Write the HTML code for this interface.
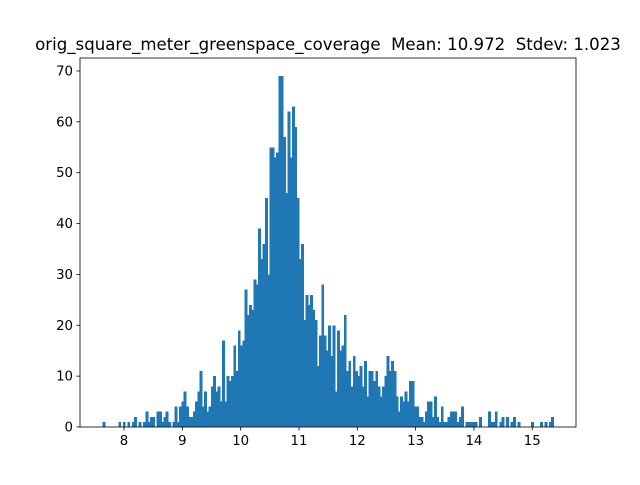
<!DOCTYPE html>
<html><head><meta charset="utf-8"><style>
html,body{margin:0;padding:0;background:#fff;}
svg text{font-family:"DejaVu Sans","Liberation Sans",sans-serif;fill:#000;white-space:pre;}
</style></head><body>
<svg id="chart" width="640" height="480" viewBox="0 0 640 480" xmlns="http://www.w3.org/2000/svg">
<rect x="0" y="0" width="640" height="480" fill="#fff"/>
<text x="328" y="50" font-size="16.6" text-anchor="middle" xml:space="preserve">orig_square_meter_greenspace_coverage  Mean: 10.972  Stdev: 1.023</text>
<g id="bars" shape-rendering="crispEdges"></g>
<g id="axes"></g>
</svg>
<script>
const counts = [1,0,0,0,0,0,0,1,0,1,0,1,0,1,2,0,1,0,1,3,1,2,2,0,3,3,1,2,3,1,0,
1,4,1,4,5,7,4,2,2,3,5,7,11,4,7,3,4,8,10,7,8,5,17,5,10,9,10,16,11,19,16,17,27,22,24,23,29,28,39,33,36,45,30,55,55,53,54,69,69,57,46,62,53,63,59,45,33,36,21,26,24,26,23,21,12,18,28,18,15,20,14,20,7,19,15,16,22,11,13,8,14,11,10,12,8,13,6,11,11,9,11,8,6,8,10,14,11,13,11,6,3,6,5,7,5,9,9,4,4,2,2,1,3,5,5,2,6,2,1,4,1,1,2,3,3,3,1,2,4,0,1,1,1,1,1,0,2,0,0,0,3,1,1,3,0,1,2,0,2,0,1,2,0,1,0,0,0,0,0,1,0,0,0,1,0,1,0,1,2];
const binStart = 7.632;
const binWidth = 0.03866;
const xTicks = [8,9,10,11,12,13,14,15];
const yTicks = [0,10,20,30,40,50,60,70];

const L=80,R=576,T=58,B=427;
const xMin=7.245,xMax=15.75,yMax=72.55;
const sx=v=>L+(v-xMin)/(xMax-xMin)*(R-L);
const sy=v=>B-v/yMax*(B-T);
const NS='http://www.w3.org/2000/svg';
const bars=document.getElementById('bars');
counts.forEach((c,i)=>{
  if(c<=0) return;
  const x0=sx(binStart+i*binWidth), x1=sx(binStart+(i+1)*binWidth);
  const r=document.createElementNS(NS,'rect');
  r.setAttribute('x',x0);r.setAttribute('width',x1-x0+0.6);
  r.setAttribute('y',sy(c));r.setAttribute('height',B-sy(c));
  r.setAttribute('fill','#1f77b4');
  
  
  bars.appendChild(r);
});
const axes=document.getElementById('axes');
const frame=document.createElementNS(NS,'rect');
frame.setAttribute('x',L);frame.setAttribute('y',T);frame.setAttribute('width',R-L);frame.setAttribute('height',B-T);
frame.setAttribute('fill','none');frame.setAttribute('stroke','#000');frame.setAttribute('stroke-width','0.8');


axes.appendChild(frame);
xTicks.forEach(t=>{
  const x=sx(t);
  const l=document.createElementNS(NS,'line');
  l.setAttribute('x1',x);l.setAttribute('x2',x);l.setAttribute('y1',B);l.setAttribute('y2',B+3.5);
  l.setAttribute('stroke','#000');l.setAttribute('stroke-width','0.8');
  
  
  axes.appendChild(l);
  const tx=document.createElementNS(NS,'text');
  tx.setAttribute('x',x);tx.setAttribute('y',B+18);tx.setAttribute('font-size','13.3');tx.setAttribute('text-anchor','middle');
  tx.textContent=t;
  
  
  axes.appendChild(tx);
});
yTicks.forEach(t=>{
  const y=sy(t);
  const l=document.createElementNS(NS,'line');
  l.setAttribute('x1',L-3.5);l.setAttribute('x2',L);l.setAttribute('y1',y);l.setAttribute('y2',y);
  l.setAttribute('stroke','#000');l.setAttribute('stroke-width','0.8');
  
  
  axes.appendChild(l);
  const tx=document.createElementNS(NS,'text');
  tx.setAttribute('x',L-7);tx.setAttribute('y',y+4.5);tx.setAttribute('font-size','13.3');tx.setAttribute('text-anchor','end');
  tx.textContent=t;
  
  
  axes.appendChild(tx);
});
</script>
</body></html>
